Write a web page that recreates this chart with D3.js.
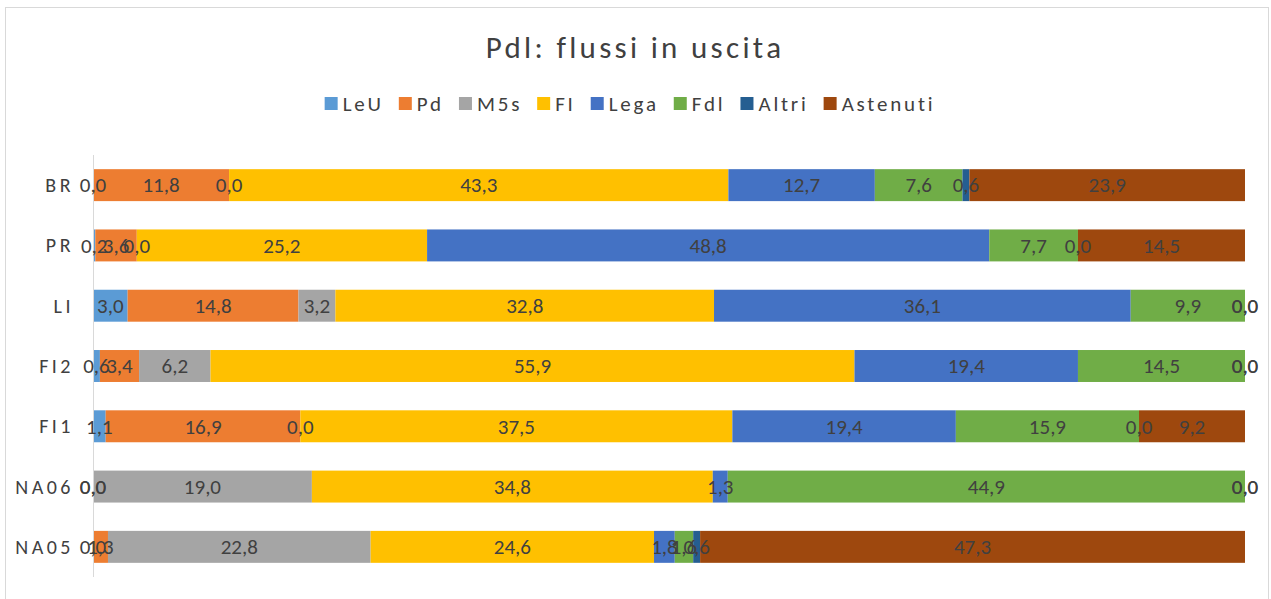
<!DOCTYPE html>
<html>
<head>
<meta charset="utf-8">
<script src="https://cdn.jsdelivr.net/npm/d3@7"></script>
<style>
  body { margin: 0; background: #fff; }
  svg { display: block; font-family: Carlito, Lato, "Open Sans", sans-serif; }
</style>
</head>
<body>
<div id="chart"></div>
<script>
// categories (top to bottom) and series, percentages
var categories = ["BR", "PR", "LI", "FI2", "FI1", "NA06", "NA05"];
var seriesNames = ["LeU", "Pd", "M5s", "FI", "Lega", "Fdl", "Altri", "Astenuti"];
var seriesColors = ["#5b9bd5", "#ed7d31", "#a5a5a5", "#ffc000", "#4472c4", "#70ad47", "#255e91", "#9e480e"];

var LeU      = [0.0, 0.2, 3.0, 0.6, 1.1, 0.0, 0.0];
var Pd       = [11.8, 3.6, 14.8, 3.4, 16.9, 0.0, 1.3];
var M5s      = [0.0, 0.0, 3.2, 6.2, 0.0, 19.0, 22.8];
var FI       = [43.3, 25.2, 32.8, 55.9, 37.5, 34.8, 24.6];
var Lega     = [12.7, 48.8, 36.1, 19.4, 19.4, 1.3, 1.8];
var Fdl      = [7.6, 7.7, 9.9, 14.5, 15.9, 44.9, 1.6];
var Altri    = [0.6, 0.0, 0.0, 0.0, 0.0, 0.0, 0.6];
var Astenuti = [23.9, 14.5, 0.0, 0.0, 9.2, 0.0, 47.3];

var seriesValues = [LeU, Pd, M5s, FI, Lega, Fdl, Altri, Astenuti];

var width = 1271, height = 599;
var plot = { left: 93, right: 1245, top: 155, bottom: 577 };
var textColor = "#404040";

// table for d3.stack
var rows = categories.map(function (c, i) {
    var r = { cat: c };
    seriesNames.forEach(function (s, j) { r[s] = seriesValues[j][i]; });
    return r;
});

var stack = d3.stack()
    .keys(seriesNames)
    .offset(d3.stackOffsetExpand);
var layers = stack(rows);

var x = d3.scaleLinear().domain([0, 1]).range([plot.left, plot.right]);
var y = d3.scaleBand()
    .domain(categories)
    .range([plot.top, plot.bottom])
    .paddingInner(0.47)
    .paddingOuter(0.235);
var color = d3.scaleOrdinal().domain(seriesNames).range(seriesColors);
var fmt = function (v) { return v.toFixed(1).replace(".", ","); };

var svg = d3.select("#chart").append("svg")
    .attr("width", width)
    .attr("height", height);

// chart frame
svg.append("rect")
    .attr("x", 5.5).attr("y", 7.5)
    .attr("width", 1263).attr("height", 600)
    .attr("fill", "#fff")
    .attr("stroke", "#d9d9d9");

// title
svg.append("text")
    .attr("x", 635).attr("y", 58)
    .attr("text-anchor", "middle")
    .attr("fill", textColor)
    .style("font-size", "31px")
    .style("letter-spacing", "3.3px")
    .text("Pdl: flussi in uscita");

// legend
var legend = svg.append("g");
var items = legend.selectAll("g")
    .data(seriesNames)
    .enter().append("g");
items.append("rect")
    .attr("width", 13).attr("height", 13)
    .attr("y", -7)
    .attr("fill", function (d) { return color(d); });
items.append("text")
    .attr("x", 18)
    .attr("dy", "0.35em")
    .attr("fill", textColor)
    .style("font-size", "21px")
    .style("letter-spacing", "2.8px")
    .text(function (d) { return d; });
var xpos = 0;
items.each(function () {
    var w = this.getBBox().width;
    d3.select(this).attr("transform", "translate(" + xpos + ",0)");
    xpos += w + 15;
});
xpos -= 15;
legend.attr("transform", "translate(" + (630 - xpos / 2) + ",104)");

// bars
var groups = svg.append("g").selectAll("g")
    .data(layers)
    .enter().append("g")
    .attr("fill", function (d) { return color(d.key); });

groups.selectAll("rect")
    .data(function (d) { return d; })
    .enter().append("rect")
    .attr("x", function (d) { return x(d[0]); })
    .attr("y", function (d) { return y(d.data.cat); })
    .attr("width", function (d) { return x(d[1]) - x(d[0]); })
    .attr("height", y.bandwidth());

// category axis
svg.append("line")
    .attr("x1", plot.left + 0.5).attr("x2", plot.left + 0.5)
    .attr("y1", plot.top).attr("y2", plot.bottom)
    .attr("stroke", "#d9d9d9");

svg.append("g").selectAll("text")
    .data(categories)
    .enter().append("text")
    .attr("x", 74)
    .attr("y", function (d) { return y(d) + y.bandwidth() / 2; })
    .attr("dy", "0.35em")
    .attr("text-anchor", "end")
    .attr("fill", textColor)
    .style("font-size", "20px")
    .style("letter-spacing", "3.5px")
    .text(function (d) { return d; });

// data labels, zeros included
var labels = svg.append("g");
layers.forEach(function (layer) {
    labels.selectAll(null)
        .data(layer)
        .enter().append("text")
        .attr("x", function (d) { return (x(d[0]) + x(d[1])) / 2; })
        .attr("y", function (d) { return y(d.data.cat) + y.bandwidth() / 2; })
        .attr("dy", "0.35em")
        .attr("text-anchor", "middle")
        .attr("fill", textColor)
        .style("font-size", "21px")
        .text(function (d) { return fmt(d.data[layer.key]); });
});
</script>
</body>
</html>
